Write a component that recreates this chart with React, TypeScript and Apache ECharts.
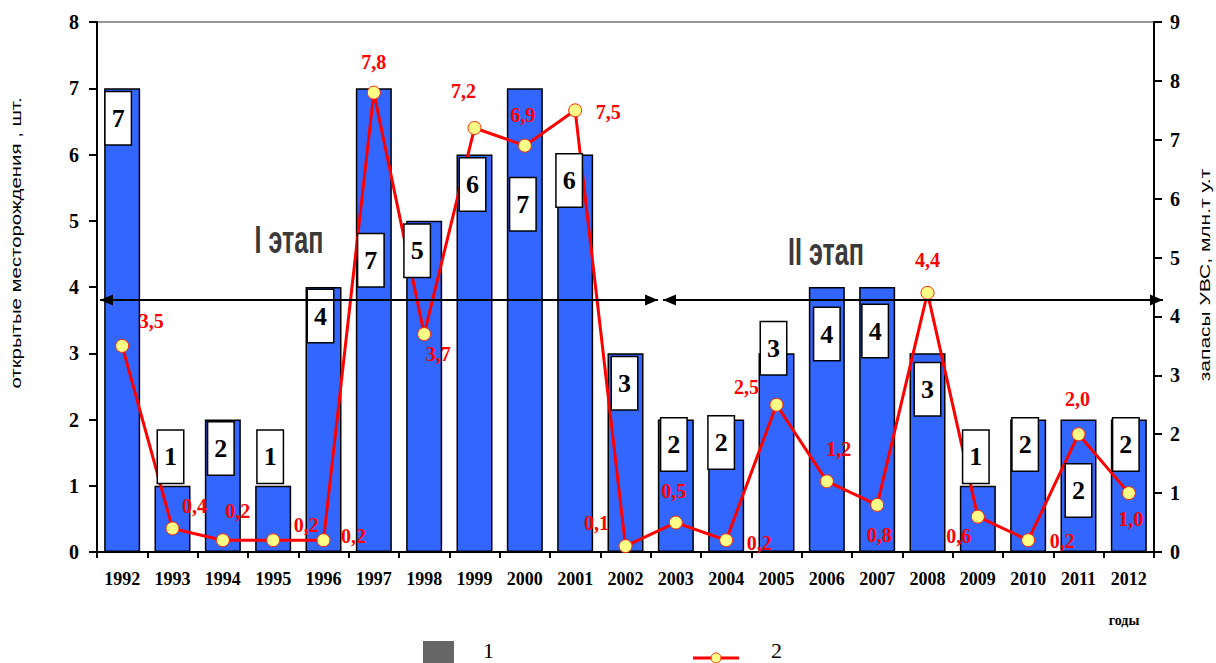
import React, { useEffect, useRef } from "react";
import * as echarts from "echarts";

// ---- data ----
const years = ["1992", "1993", "1994", "1995", "1996", "1997", "1998", "1999", "2000", "2001", "2002", "2003", "2004", "2005", "2006", "2007", "2008", "2009", "2010", "2011", "2012"];
const fieldsOpened = [7, 1, 2, 1, 4, 7, 5, 6, 7, 6, 3, 2, 2, 3, 4, 4, 3, 1, 2, 2, 2];
const reserves = [3.5, 0.4, 0.2, 0.2, 0.2, 7.8, 3.7, 7.2, 6.9, 7.5, 0.1, 0.5, 0.2, 2.5, 1.2, 0.8, 4.4, 0.6, 0.2, 2.0, 1.0];
const leftTicks = [0, 8, 1];
const rightTicks = [0, 9, 1];

// ---- layout (label placement, pixels) ----
const barLabelOffsets: number[][] = [
  [-4, 4], [-2, -55], [-2, 3], [-3, -55], [-3, 3], [-3, 146], [-7, 4], [-2, 4], [-2, 90], [-6, 0],
  [-1, 4], [-2, -1], [-5, -3], [-3, -31], [0, 21], [-2, 18], [0, 10], [-2, -55], [-3, -1], [0, 45], [-3, -1],
];
const lineLabelOffsets: number[][] = [
  [29, -25], [22, -22], [15, -29], [33, -15], [30, -4], [0, -31], [14, 20], [-11, -37], [-2, -31], [33, 2],
  [-29, -23], [-2, -32], [33, 3], [-30, -18], [12, -32], [2, 30], [0, -33], [-19, 19], [34, 1], [-1, -35], [2, 26],
];

const SERIF = "'Liberation Serif', 'Times New Roman', serif";
const SANS = "'Liberation Sans', Arial, sans-serif";

const fmt = (v: number) => v.toFixed(1).replace(".", ",");

function arrowHead(tip: number, y: number, dir: number) {
  const base = tip - dir * 13;
  return {
    type: "polygon",
    z: 100,
    shape: { points: [[tip, y], [base, y - 5.5], [base, y + 5.5]] },
    style: { fill: "#000" },
  };
}

export default function App() {
  const ref = useRef<HTMLDivElement>(null);
  useEffect(() => {
    if (!ref.current) return;
    const chart = echarts.init(ref.current, undefined, { renderer: "svg" });
    const arrowY = 300;
    chart.setOption({
      animation: false,
      backgroundColor: "#fff",
      grid: { left: 97, right: 62, top: 22, bottom: 111, show: true, borderColor: "#999", borderWidth: 2 },
      xAxis: {
        type: "category",
        data: years,
        axisLine: { lineStyle: { color: "#000", width: 2 } },
        axisTick: { show: true, length: 6, lineStyle: { color: "#000", width: 2 } },
        axisLabel: { color: "#000", fontFamily: SERIF, fontWeight: "bold", fontSize: 18, margin: 18 },
      },
      yAxis: [
        {
          type: "value",
          min: leftTicks[0], max: leftTicks[1], interval: leftTicks[2],
          position: "left",
          splitLine: { show: false },
          axisLine: { show: true, lineStyle: { color: "#000", width: 2 } },
          axisTick: { show: true, length: 8, lineStyle: { color: "#000", width: 2 } },
          axisLabel: { color: "#000", fontFamily: SERIF, fontWeight: "bold", fontSize: 20, margin: 18 },
        },
        {
          type: "value",
          min: rightTicks[0], max: rightTicks[1], interval: rightTicks[2],
          position: "right",
          splitLine: { show: false },
          axisLine: { show: true, lineStyle: { color: "#000", width: 2 } },
          axisTick: { show: true, length: 8, lineStyle: { color: "#000", width: 2 } },
          axisLabel: { color: "#000", fontFamily: SERIF, fontWeight: "bold", fontSize: 20, margin: 16 },
        },
      ],
      series: [
        {
          name: "1",
          type: "bar",
          yAxisIndex: 0,
          z: 2,
          barWidth: 36,
          barGap: "-100%",
          data: fieldsOpened,
          itemStyle: { color: "#3366ff", borderColor: "#000", borderWidth: 1.5 },
        },
        {
          name: "2",
          type: "line",
          yAxisIndex: 1,
          z: 3,
          data: reserves.map((v, i) => ({
            value: v,
            label: { offset: lineLabelOffsets[i] },
          })),
          lineStyle: { color: "#ff0000", width: 3 },
          symbol: "circle",
          symbolSize: 13,
          itemStyle: { color: "#ffff88", borderColor: "#ff2200", borderWidth: 1 },
          label: {
            show: true,
            position: "inside",
            color: "#ff0000",
            fontFamily: SERIF,
            fontWeight: "bold",
            fontSize: 20,
            formatter: (p: any) => fmt(p.value),
          },
        },
        {
          name: "labels",
          type: "bar",
          yAxisIndex: 0,
          z: 5,
          barWidth: 36,
          barGap: "-100%",
          silent: true,
          data: fieldsOpened.map((v, i) => ({
            value: v,
            label: { offset: barLabelOffsets[i] },
          })),
          itemStyle: { color: "rgba(0,0,0,0)", borderWidth: 0 },
          label: {
            show: true,
            position: "insideTop",
            distance: 0,
            color: "#000",
            fontFamily: SERIF,
            fontWeight: "bold",
            fontSize: 26,
            lineHeight: 26,
            backgroundColor: "#fff",
            borderColor: "#000",
            borderWidth: 1.5,
            padding: [13, 6],
            formatter: (p: any) => String(p.value),
          },
        },
      ],
      graphic: [
        { type: "line", z: 100, shape: { x1: 100, y1: arrowY, x2: 658, y2: arrowY }, style: { stroke: "#000", lineWidth: 2 } },
        arrowHead(100, arrowY, -1),
        arrowHead(658, arrowY, 1),
        { type: "line", z: 100, shape: { x1: 663, y1: arrowY, x2: 1163, y2: arrowY }, style: { stroke: "#000", lineWidth: 2 } },
        arrowHead(663, arrowY, -1),
        arrowHead(1163, arrowY, 1),
        {
          type: "text", x: 289, y: 240, scaleX: 0.66, z: 100,
          style: { text: "I этап", fill: "#3a3a3a", font: `bold 38px ${SANS}`, align: "center", verticalAlign: "middle" },
        },
        {
          type: "text", x: 826, y: 252, scaleX: 0.66, z: 100,
          style: { text: "II этап", fill: "#3a3a3a", font: `bold 38px ${SANS}`, align: "center", verticalAlign: "middle" },
        },
        {
          type: "text", x: 16, y: 243, rotation: Math.PI / 2, scaleX: 1.36,
          style: { text: "открытые месторождения , шт.", fill: "#000", font: `15px ${SANS}`, align: "center", verticalAlign: "middle" },
        },
        {
          type: "text", x: 1205, y: 275, rotation: Math.PI / 2, scaleX: 1.4,
          style: { text: "запасы УВС, млн.т у.т", fill: "#000", font: `15px ${SANS}`, align: "center", verticalAlign: "middle" },
        },
        {
          type: "text", x: 1124, y: 620,
          style: { text: "годы", fill: "#000", font: `bold 14px ${SERIF}`, align: "center", verticalAlign: "middle" },
        },
        { type: "rect", shape: { x: 423, y: 641, width: 31, height: 24 }, style: { fill: "#666" } },
        {
          type: "text", x: 483, y: 650,
          style: { text: "1", fill: "#000", font: `22px ${SERIF}`, align: "left", verticalAlign: "middle" },
        },
        { type: "line", shape: { x1: 693, y1: 658, x2: 739, y2: 658 }, style: { stroke: "#ff0000", lineWidth: 3 } },
        { type: "circle", shape: { cx: 716, cy: 658, r: 5 }, style: { fill: "#ffff88", stroke: "#ff2200", lineWidth: 1 } },
        {
          type: "text", x: 771, y: 650,
          style: { text: "2", fill: "#000", font: `22px ${SERIF}`, align: "left", verticalAlign: "middle" },
        },
      ],
    });
    return () => chart.dispose();
  }, []);
  return <div ref={ref} style={{ position: "fixed", left: 0, top: 0, width: 1216, height: 663 }} />;
}
